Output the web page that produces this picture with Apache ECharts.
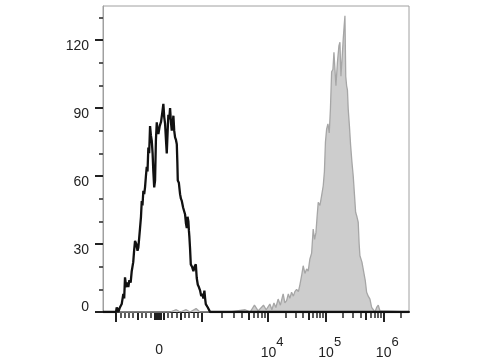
<!DOCTYPE html>
<html><head><meta charset="utf-8">
<script src="https://cdn.jsdelivr.net/npm/echarts@6/dist/echarts.min.js"></script>
<style>html,body{margin:0;padding:0;background:#fff}#c{width:480px;height:360px}</style>
</head><body><div id="c"></div>
<script>
// ---- data (fluorescence intensity, counts) ----
const X_MIN = -1574, X_MAX = 2800000;
const Y_MIN = 0, Y_MAX = 135;
const yMajorTicks = [0, 30, 60, 90, 120];
const yMinorTicks = [10, 20, 40, 50, 70, 80, 100, 110, 130];
const xZeroLabel = [0];
const xPowLabels = [10000, 100000, 1000000];
const xPowExps = [4, 5, 6];
const xMajorTicks = [-1000, 1000, 10000, 100000, 1000000];
const xMidTicks = [-500, 500, 5000, 50000, 500000, -100, -50, 0, 50, 100];
const xMinorTicks = [-900, -800, -700, -600, -400, -300, -200, 200, 300, 400, 600, 700, 800, 900,
  2000, 3000, 4000, 6000, 7000, 8000, 9000,
  20000, 30000, 40000, 60000, 70000, 80000, 90000,
  200000, 300000, 400000, 600000, 700000, 800000, 900000, 2000000];

const blackX = [-1574, -1150, -1000, -984, -947, -910, -868, -830, -810, -791, -770, -751, -730, -714, -690, -660, -635, -600, -580, -558, -530, -500, -481, -460, -442, -420, -402, -385, -365, -345, -326, -305, -286, -268, -249, -230, -209, -190, -170, -150, -133, -113, -93, -73, -53, -35, -16, 15, 47, 75, 100, 120, 140, 160, 179, 200, 216, 236, 256, 275, 295, 315, 333, 352, 372, 392, 412, 425, 435, 460, 488, 508, 528, 560, 590, 605, 625, 644, 662, 681, 693, 705, 720, 737, 765, 798, 825, 854, 875, 900, 925, 954, 980, 1010, 1045, 1083, 1110, 1137, 1180, 1220, 1270, 1320, 2800000];
const blackY = [0, 0, 0, 2, 0, 2, 3.5, 8, 6, 15.3, 12, 11, 13, 11, 14, 13, 18, 22, 27, 31.4, 30, 27, 28.5, 33, 37, 42, 49, 47, 53.5, 52, 55, 60, 64, 62, 72.6, 70, 82, 78, 75.6, 70, 62, 55, 58, 76, 83.7, 80, 78.5, 82, 84, 88, 91.8, 86, 83, 76, 70, 80, 87, 85, 90, 84, 80, 83, 86.6, 80, 77, 76, 74, 66, 58, 57, 52, 50, 49, 46, 44, 43, 39, 37, 42, 40, 36, 33, 28, 21, 20, 18, 20, 21, 15, 12, 11, 9.4, 7, 8, 6, 9.4, 6, 3.5, 3, 2, 1, 0, 0];

const grayX = [-1574, 256, 400, 490, 630, 720, 860, 950, 2660, 4480, 5340, 6200, 7050, 8490, 9330, 10700, 11600, 12600, 13600, 14900, 16300, 18200, 19500, 20900, 22400, 23800, 25500, 27400, 29100, 31200, 33500, 35600, 38100, 40600, 43500, 46600, 49600, 53100, 56900, 60600, 64100, 67600, 70800, 74100, 79300, 84900, 90500, 94900, 98900, 103700, 109200, 115100, 120700, 126700, 133400, 139000, 144500, 150400, 159600, 169800, 176600, 183700, 192800, 201500, 209000, 215800, 222800, 230800, 238400, 246000, 258200, 271000, 285700, 300600, 315500, 331000, 349000, 367000, 381000, 393000, 426000, 461000, 486000, 514000, 548000, 587000, 628000, 670000, 718000, 767000, 818000, 877000, 938000, 2800000];
const grayY = [0, 0, 1, 0, 1, 0, 1.5, 0, 0, 1, 0, 3, 0.5, 3, 1, 3.5, 1, 4, 2, 5.7, 3, 8, 4, 5, 8, 6, 8.7, 7, 9, 10, 9, 12, 16, 20.4, 17, 19, 18, 23.4, 26, 36.6, 32, 35, 42, 48.4, 47, 51.3, 55.7, 62, 75, 80.7, 83, 79, 89.5, 106, 107, 114.6, 114.6, 99.8, 110, 117.5, 119, 104, 112, 120.4, 126, 130.7, 104, 99.8, 98, 89.5, 82, 73.4, 66, 60, 52, 44, 42, 39.6, 30, 24.8, 22, 22, 14, 8.7, 7, 5.7, 2, 1.3, 0, 2, 3, 0.5, 0, 0];

// ---- biexponential-like display transform ----
const LIN = 1000, LIN_W = 0.748, D1 = 1.148;
function T(v) {
  const a = Math.abs(v), s = v < 0 ? -1 : 1;
  if (a <= LIN) return v / LIN * LIN_W;
  if (a <= 1e4) return s * (LIN_W + D1 * Math.log10(a / LIN));
  return s * (LIN_W + D1 + Math.log10(a / 1e4));
}

const FONT = 'Liberation Sans, Arial, sans-serif';
const AX_MIN = T(X_MIN), AX_MAX = T(X_MAX);

function xAxisBase(extra) {
  return Object.assign({
    type: 'value', min: AX_MIN, max: AX_MAX, position: 'bottom', offset: 0, gridIndex: 0,
    axisLine: { show: false, onZero: false }, splitLine: { show: false },
    axisTick: { show: false }, axisLabel: { show: false }
  }, extra);
}

const chart = echarts.init(document.getElementById('c'), null, { renderer: 'canvas' });
chart.setOption({
  animation: false,
  backgroundColor: '#fff',
  grid: { left: 103, right: 71, top: 6, bottom: 47, show: true, borderColor: '#a0a0a0', borderWidth: 1, containLabel: false },
  xAxis: [
    xAxisBase({
      axisLine: { show: true, onZero: false, lineStyle: { color: '#111', width: 2 } },
      axisLabel: {
        show: true, customValues: xPowLabels.map(T), margin: 22,
        formatter: function (val) {
          let i = 0, best = 1e9;
          xPowLabels.forEach(function (p, k) { const d = Math.abs(T(p) - val); if (d < best) { best = d; i = k; } });
          return '{b|10}{s|' + xPowExps[i] + '}';
        },
        rich: {
          b: { fontSize: 14, fontFamily: FONT, color: '#222', padding: [12, 0, 0, 8] },
          s: { fontSize: 13, fontFamily: FONT, color: '#222', padding: [0, 0, 10, 0] }
        }
      }
    }),
    xAxisBase({
      axisTick: { show: true, customValues: xMidTicks.map(T), length: 8, lineStyle: { color: '#222', width: 2 } },
      axisLabel: { show: true, customValues: xZeroLabel.map(T), margin: 31, fontSize: 14, fontFamily: FONT, color: '#222', formatter: function () { return '0'; } }
    }),
    xAxisBase({
      axisTick: { show: true, customValues: xMajorTicks.map(T), length: 10, lineStyle: { color: '#222', width: 2 } }
    }),
    xAxisBase({
      axisTick: { show: true, customValues: xMinorTicks.map(T), length: 6, lineStyle: { color: '#333', width: 1.6 } }
    })
  ],
  yAxis: [
    {
      type: 'value', min: Y_MIN, max: Y_MAX, position: 'left', offset: 0, gridIndex: 0,
      axisLine: { show: true, onZero: false, lineStyle: { color: '#a0a0a0', width: 1 } },
      splitLine: { show: false },
      axisTick: { show: true, customValues: yMajorTicks, length: 8, lineStyle: { color: '#222', width: 2 } },
      axisLabel: {
        show: true, customValues: yMajorTicks, margin: 14,
        formatter: function (v) { return v === 0 ? '{z|0}' : '{n|' + v + '}'; },
        rich: {
          z: { fontSize: 14, fontFamily: FONT, color: '#222', padding: [0, 0, 10, 0] },
          n: { fontSize: 14, fontFamily: FONT, color: '#222', padding: [13, 0, 0, 0] }
        }
      }
    },
    {
      type: 'value', min: Y_MIN, max: Y_MAX, position: 'left', offset: 0, gridIndex: 0,
      axisLine: { show: false, onZero: false }, splitLine: { show: false }, axisLabel: { show: false },
      axisTick: { show: true, customValues: yMinorTicks, length: 4, lineStyle: { color: '#333', width: 1.6 } }
    }
  ],
  series: [
    {
      type: 'line', xAxisIndex: 0, yAxisIndex: 0, showSymbol: false, z: 2,
      data: grayX.map(function (x, i) { return [T(x), grayY[i]]; }),
      lineStyle: { color: '#a6a6a6', width: 1.3 },
      areaStyle: { color: '#cdcdcd', opacity: 1 }
    },
    {
      type: 'line', xAxisIndex: 0, yAxisIndex: 0, showSymbol: false, z: 3,
      data: blackX.map(function (x, i) { return [T(x), blackY[i]]; }),
      lineStyle: { color: '#111', width: 2.3 }
    }
  ]
});
</script>
</body></html>
